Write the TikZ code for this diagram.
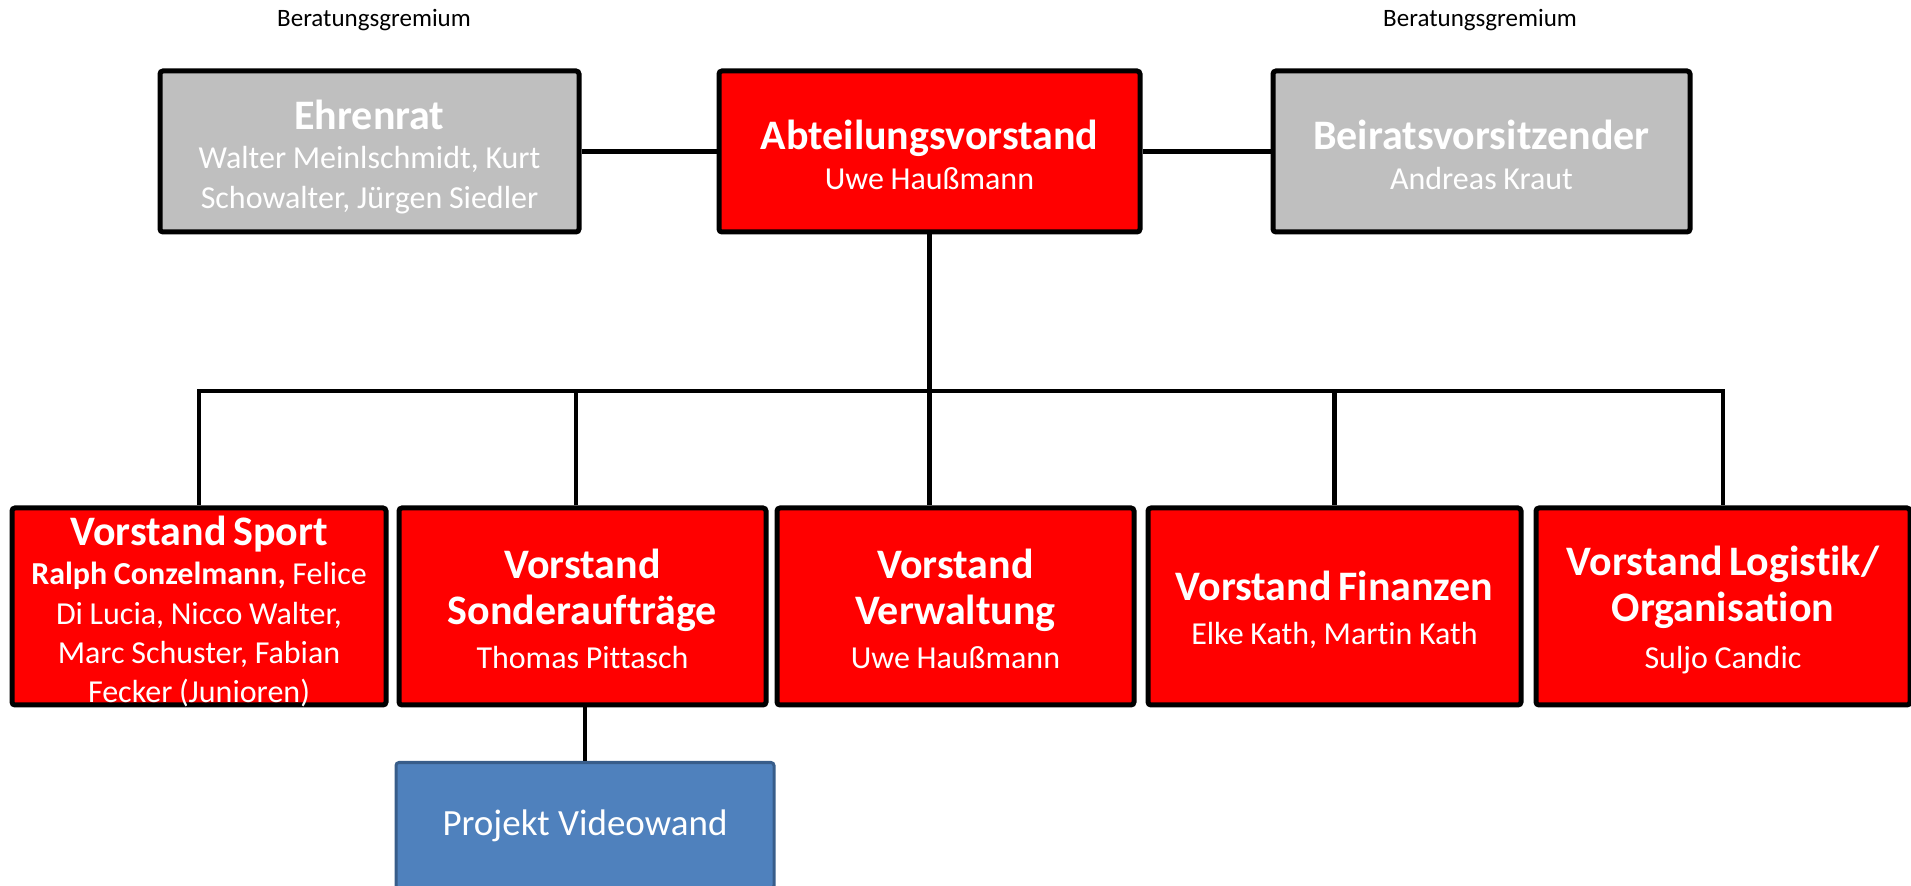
\documentclass[tikz,border=0pt]{standalone}
\usepackage{fontspec}
\setmainfont{Carlito}[Ligatures=NoCommon]
\definecolor{boxred}{RGB}{255,0,0}
\definecolor{boxgrey}{RGB}{191,191,191}
\definecolor{boxblue}{RGB}{79,129,189}
\definecolor{blueedge}{RGB}{56,93,138}
\newcommand\boxtitle[1]{{\fontsize{21}{23}\selectfont\bfseries #1\par}}
\newcommand\boxbody[1]{{\fontsize{16}{19.7}\selectfont #1\par}}
\tikzset{
  conn/.style={line width=2.4pt, draw=black},
  orgbox/.style={draw=black, line width=2.5pt, rounded corners=1.5pt, text=white, align=center, inner sep=0pt},
  redbox/.style={orgbox, fill=boxred},
  greybox/.style={orgbox, fill=boxgrey},
  bluebox/.style={draw=blueedge, line width=1.5pt, fill=boxblue, rounded corners=1.5pt, text=white, align=center, inner sep=0pt},
  toprow/.style={minimum height=80.5pt},
  botrow/.style={minimum height=98.5pt},
  lbl/.style={font=\fontsize{12.5}{15}\selectfont, inner sep=0pt}
}
\begin{document}
\begin{tikzpicture}[x=0.5pt,y=-0.5pt]
\useasboundingbox (0,0) rectangle (1911,886);

% labels
\node[lbl] (lblL) at (374,20) {Beratungsgremium};
\node[lbl] (lblR) at (1480,20) {Beratungsgremium};

% top row
\node[greybox, toprow, minimum width=209.5pt, text width=200pt] (ehren) at (369.5,151.5)
  {\boxtitle{Ehrenrat}\boxbody{Walter Meinlschmidt, Kurt\\Schowalter, Jürgen Siedler}\vspace{-5.5pt}};
\node[redbox, toprow, minimum width=210.5pt, text width=200pt] (abt) at (929.5,151.5)
  {\boxtitle{Abteilungsvorstand}\vspace{0.5pt}\boxbody{Uwe Haußmann}\vspace{-3.5pt}};
\node[greybox, toprow, minimum width=208.5pt, text width=200pt] (beirat) at (1481.5,151.5)
  {\boxtitle{Beiratsvorsitzender}\vspace{0.5pt}\boxbody{Andreas Kraut}\vspace{-3.5pt}};

% bottom row
\node[redbox, botrow, minimum width=187pt, text width=180pt] (sport) at (199,606.5)
  {\boxtitle{Vorstand Sport}\boxbody{\textbf{Ralph Conzelmann,} Felice\\Di Lucia, Nicco Walter,\\Marc Schuster, Fabian\\Fecker (Junioren)}\vspace{-5pt}};
\node[redbox, botrow, minimum width=183.5pt, text width=176pt] (sonder) at (582.5,606.5)
  {\boxtitle{Vorstand\\Sonderaufträge}\vspace{2.5pt}\boxbody{Thomas Pittasch}\vspace{-2.5pt}};
\node[redbox, botrow, minimum width=178.5pt, text width=172pt] (verw) at (955.5,606.5)
  {\boxtitle{Vorstand\\Verwaltung}\vspace{2.5pt}\boxbody{Uwe Haußmann}\vspace{-2.5pt}};
\node[redbox, botrow, minimum width=186.5pt, text width=180pt] (finanz) at (1334.5,606.5)
  {\boxtitle{Vorstand Finanzen}\vspace{2.5pt}\boxbody{Elke Kath, Martin Kath}\vspace{-3.5pt}};
\node[redbox, botrow, minimum width=187pt, text width=180pt] (logist) at (1723,606.5)
  {\boxtitle{Vorstand Logistik/\\Organisation}\vspace{3.5pt}\boxbody{Suljo Candic}\vspace{-3.5pt}};

% project
\node[bluebox, minimum width=189pt, minimum height=63pt,
      font=\fontsize{18.5}{22}\selectfont] (projekt) at (585,825.5) {Projekt Videowand};

% connectors
\coordinate (busy) at (0,391);
\coordinate (sondertop) at (576,0);
\draw[conn] (ehren.east) -- (abt.west);
\draw[conn] (abt.east) -- (beirat.west);
\draw[conn] (abt.south) -- (verw.north -| abt.south);
\draw[conn] (sport.north) -- (sport.north |- busy) -- (logist.north |- busy) -- (logist.north);
\draw[conn] (sonder.north -| sondertop) -- (sondertop |- busy);
\draw[conn] (finanz.north) -- (finanz.north |- busy);
\draw[conn] (sonder.south -| projekt.north) -- (projekt.north);
\end{tikzpicture}
\end{document}
